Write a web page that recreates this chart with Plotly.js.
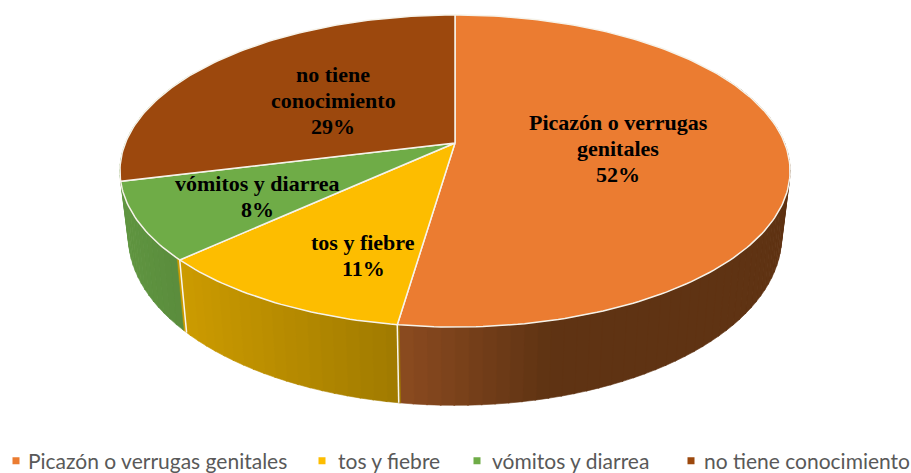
<!DOCTYPE html>
<html>
<head>
<meta charset="utf-8">
<script src="https://cdn.plot.ly/plotly-3.0.1.min.js"></script>
<style>html,body{margin:0;padding:0;background:#fff}#chart{width:911px;height:473px}</style>
</head>
<body>
<div id="chart"></div>
<script>
// Data
const categories = ['Picazón o verrugas genitales', 'tos y fiebre', 'vómitos y diarrea', 'no tiene conocimiento'];
const values = [52.3, 10.8, 8.0, 28.9];
const labelLines = [['Picazón o verrugas', 'genitales'], ['tos y fiebre'], ['vómitos y diarrea'], ['no tiene', 'conocimiento']];

// Styles
const topColors = ['#EB7C31', '#FDBD00', '#6FAC47', '#9C480D'];
const wallLeft  = [[140,75,32], [204,155,0], [96,150,65], [96,150,65]];
const wallRight = [[95,51,19], [160,122,0], [90,140,60], [96,150,65]];
const wallSpan  = [[398,545], [186,398], [125,186], [100,140]];
const labelX = [618, 363, 257, 333];
const labelY = [148, 255.5, 196, 100];
const legendX = [-12, 298, 452, 664];
const symbolShift = [8, 4, 5, 7];

// Projection of the tilted disc
const apex = {x: 455, y: 143}, C = 329.6, B = 151, a = 0.1795;
function rimTop(t) {
  const u = Math.sin(t), v = Math.cos(t), d = 1 + a * v;
  return [apex.x + C * u / d, apex.y - B * v / d];
}
function rimBottom(t) {
  const p = rimTop(t), rel = p[1] - apex.y;
  return [apex.x + (p[0] - apex.x) * 0.975, p[1] + 63 + 0.083 * rel];
}
const rad = d => d * Math.PI / 180;
const total = values.reduce((s, x) => s + x, 0);
const edges = [0];
values.forEach(x => edges.push(edges[edges.length - 1] + x / total * 360));
const sliceAt = deg => { for (let i = 0; i < values.length; i++) if (deg < edges[i + 1]) return i; return values.length - 1; };

const traces = [];
// Side wall in strips, to carry the gradient
for (let d = 60; d < 300; d += 2) {
  const mid = d + 1, i = sliceAt(mid);
  const p0 = rimTop(rad(d)), p1 = rimTop(rad(d + 2.2)), q1 = rimBottom(rad(d + 2.2)), q0 = rimBottom(rad(d));
  const f = Math.min(1, Math.max(0, ((q0[0] + q1[0]) / 2 - wallSpan[i][0]) / (wallSpan[i][1] - wallSpan[i][0])));
  const c = wallLeft[i].map((l, k) => Math.round(l + (wallRight[i][k] - l) * f));
  const col = `rgb(${c.join(',')})`;
  traces.push({type: 'scatter', mode: 'lines', x: [p0[0], p1[0], q1[0], q0[0], p0[0]], y: [p0[1], p1[1], q1[1], q0[1], p0[1]],
    fill: 'toself', fillcolor: col, line: {color: col, width: 0.6}, showlegend: false, hoverinfo: 'skip'});
}
// Separators on the wall
[edges[1], edges[2]].forEach(e => {
  const p = rimTop(rad(e)), q = rimBottom(rad(e));
  traces.push({type: 'scatter', mode: 'lines', x: [p[0], q[0]], y: [p[1], q[1]], line: {color: '#f8f6f0', width: 1.5}, showlegend: false, hoverinfo: 'skip'});
});
// Top slices
values.forEach((val, i) => {
  const xs = [apex.x], ys = [apex.y];
  for (let d = edges[i]; d < edges[i + 1]; d += 1) { const p = rimTop(rad(d)); xs.push(p[0]); ys.push(p[1]); }
  const e = rimTop(rad(edges[i + 1])); xs.push(e[0], apex.x); ys.push(e[1], apex.y);
  traces.push({type: 'scatter', mode: 'lines', x: xs, y: ys, fill: 'toself', fillcolor: topColors[i],
    line: {color: '#f6f3ea', width: 1.5}, name: categories[i], showlegend: false,
    hovertemplate: categories[i] + ': ' + Math.round(val) + '%<extra></extra>'});
});
// Legend entries
categories.forEach((name, i) => {
  traces.push({type: 'scatter', mode: 'markers', x: [null], y: [null], name,
    marker: {symbol: 'square', size: 7, color: topColors[i]},
    legend: i === 0 ? 'legend' : 'legend' + (i + 1), showlegend: true});
});

// Data labels, one annotation per line for the original 26px line spacing
const annotations = [];
values.forEach((val, i) => {
  const lines = labelLines[i].concat(Math.round(val) + '%');
  lines.forEach((line, k) => annotations.push({
    xref: 'x', yref: 'y', x: labelX[i], y: labelY[i] + (k - (lines.length - 1) / 2) * 26,
    showarrow: false, xanchor: 'center', yanchor: 'middle',
    text: '<b>' + line + '</b>',
    font: {family: '"Liberation Serif", serif', size: 22, color: '#000'}
  }));
});

const layout = {
  width: 911, height: 473, margin: {l: 0, r: 0, t: 0, b: 0, autoexpand: false},
  paper_bgcolor: '#fff', plot_bgcolor: '#fff', showlegend: true,
  xaxis: {range: [0, 911], visible: false, fixedrange: true},
  yaxis: {range: [473, 0], visible: false, fixedrange: true},
  annotations
};
legendX.forEach((x, i) => {
  layout[i === 0 ? 'legend' : 'legend' + (i + 1)] = {
    x: x / 911, xanchor: 'left', y: 1 - 461 / 473, yanchor: 'middle', orientation: 'h',
    bgcolor: 'rgba(0,0,0,0)', borderwidth: 0, itemwidth: 30,
    font: {family: 'Lato, sans-serif', size: 21, color: '#595959'}
  };
});

Plotly.newPlot('chart', traces, layout, {displayModeBar: false}).then(gd => {
  // tighter swatch-to-text gap, as in the original
  gd.querySelectorAll('.legendsymbols').forEach((s, i) => {
    s.setAttribute('transform', `translate(${symbolShift[i] || 0},0)`);
  });
});
</script>
</body>
</html>
